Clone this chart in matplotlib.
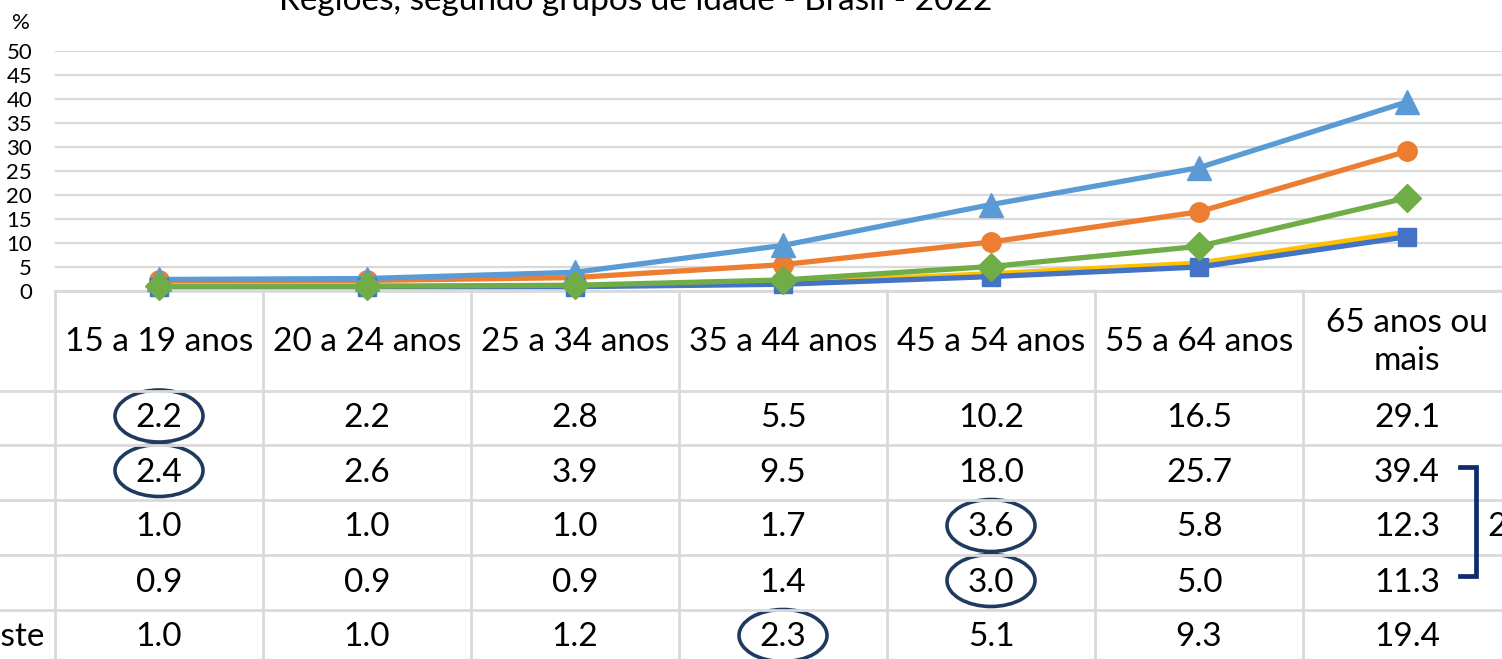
import matplotlib
matplotlib.use("Agg")
import matplotlib.pyplot as plt
from matplotlib.patches import Ellipse
from matplotlib.lines import Line2D

plt.rcParams["font.family"] = ["Lato", "DejaVu Sans"]

W, H = 1502, 659

groups = ["15 a 19 anos", "20 a 24 anos", "25 a 34 anos", "35 a 44 anos",
          "45 a 54 anos", "55 a 64 anos", "65 anos ou\nmais"]
regions = ["Norte", "Nordeste", "Sudeste", "Sul", "Centro-Oeste"]
norte = [2.2, 2.2, 2.8, 5.5, 10.2, 16.5, 29.1]
nordeste = [2.4, 2.6, 3.9, 9.5, 18.0, 25.7, 39.4]
sudeste = [1.0, 1.0, 1.0, 1.7, 3.6, 5.8, 12.3]
sul = [0.9, 0.9, 0.9, 1.4, 3.0, 5.0, 11.3]
centro_oeste = [1.0, 1.0, 1.2, 2.3, 5.1, 9.3, 19.4]
series = [norte, nordeste, sudeste, sul, centro_oeste]
yticks = list(range(0, 51, 5))
title = "Regiões, segundo grupos de idade - Brasil - 2022"
# highlighted cells: (row, column)
circled = [(0, 0), (1, 0), (2, 4), (3, 4), (4, 3)]

colors = ["#ED7D31", "#5B9BD5", "#FFC000", "#4472C4", "#70AD47"]
markers = ["o", "^", None, "s", "D"]
msizes = [14, 17, 0, 13, 14]

# layout in pixels
X0, COLW = 55, 208
Y_TOP, Y_ZERO = 51, 291
ROW_LINES = [391, 445, 500, 555, 610, 665]
GRID = "#D9D9D9"

fig = plt.figure(figsize=(W / 100, H / 100), dpi=100)

# overlay axes in pixel coordinates for the data table
ov = fig.add_axes([0, 0, 1, 1])
ov.set_xlim(0, W)
ov.set_ylim(H, 0)
ov.axis("off")

# chart axes
ax = fig.add_axes([X0 / W, (H - Y_ZERO) / H, COLW * 7 / W, (Y_ZERO - Y_TOP) / H])
x = list(range(len(groups)))
for i, vals in enumerate(series):
    ax.plot(x, vals, color=colors[i], lw=3.8, marker=markers[i],
            markersize=msizes[i], clip_on=False, zorder=3 + i,
            solid_joinstyle="round")
ax.set_xlim(-0.5, len(groups) - 0.5)
ax.set_ylim(0, 50)
ax.set_yticks(yticks)
ax.set_xticks([])
ax.tick_params(axis="y", length=0, pad=16.5, labelsize=16)
ax.yaxis.grid(True, color=GRID, lw=1.6)
ax.set_axisbelow(True)
for s in ax.spines.values():
    s.set_visible(False)
ax.patch.set_alpha(0)

ov.text(21, 23, "%", ha="center", va="center", fontsize=16)
ov.text(636, 10, title, ha="center", va="baseline", fontsize=24)

# table grid
ov.add_line(Line2D([X0, W], [Y_ZERO, Y_ZERO], color=GRID, lw=2))
for y in ROW_LINES[:-1]:
    ov.add_line(Line2D([0, W], [y, y], color=GRID, lw=2))
for k in range(len(groups) + 1):
    xv = X0 + COLW * k
    ov.add_line(Line2D([xv, xv], [Y_ZERO, H], color=GRID, lw=2))

# header
for k, g in enumerate(groups):
    ov.text(X0 + COLW * (k + 0.5), 342, g, ha="center", va="center",
            fontsize=24, linespacing=1.35)

# row labels (mostly off the left edge)
fig.canvas.draw()
r = fig.canvas.get_renderer()
probe = ov.text(0, 0, regions[-1], fontsize=24)
wpx = probe.get_window_extent(r).width
probe.remove()
for i, name in enumerate(regions):
    yc = (ROW_LINES[i] + ROW_LINES[i + 1]) / 2
    ov.text(45 - wpx, yc, name, ha="left", va="center", fontsize=24)

# values
for i, vals in enumerate(series):
    yc = (ROW_LINES[i] + ROW_LINES[i + 1]) / 2
    for k, v in enumerate(vals):
        ov.text(X0 + COLW * (k + 0.5), yc, f"{v:.1f}", ha="center",
                va="center", fontsize=24)

# circles around highlighted values
for i, k in circled:
    yc = (ROW_LINES[i] + ROW_LINES[i + 1]) / 2 - 2
    ov.add_patch(Ellipse((X0 + COLW * (k + 0.5), yc), 88, 52, fill=False,
                         ec="#1F3A5F", lw=2.6))

# bracket on the right
ov.add_line(Line2D([1460, 1476, 1476, 1460], [467, 467, 576, 576],
                   color="#0D2B6E", lw=3.4, solid_joinstyle="miter"))
ov.text(1487, 527, "2", ha="left", va="center", fontsize=24)

fig.savefig("out.png", dpi=100)
